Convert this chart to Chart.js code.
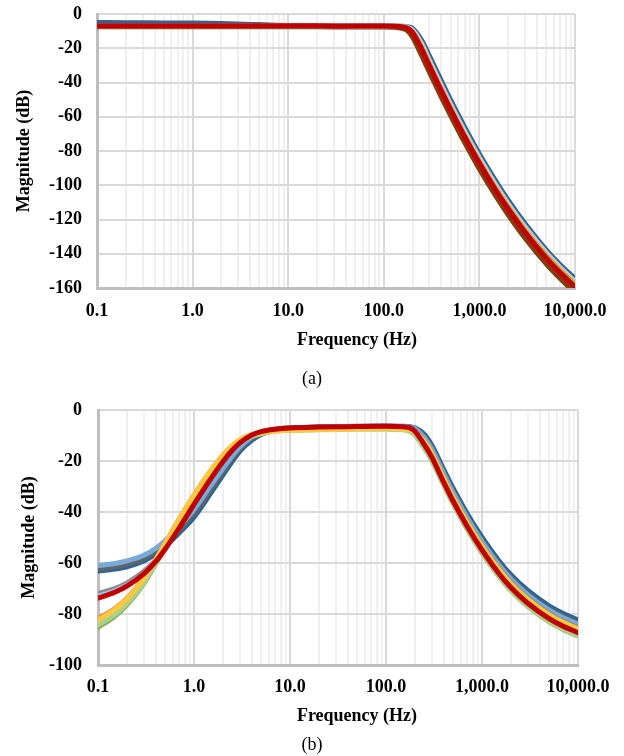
<!DOCTYPE html>
<html><head><meta charset="utf-8">
<script src="https://cdn.jsdelivr.net/npm/chart.js@4.4.1/dist/chart.umd.min.js"></script>
<style>
body{margin:0;background:#fff;width:624px;height:756px;position:relative;overflow:hidden;font-family:"Liberation Serif","Times New Roman",serif;}
canvas{position:absolute;left:0;}
#ca{top:0}
#cb{top:390px}
.lbl{position:absolute;transform:translate(-50%,-50%);white-space:nowrap;font-size:18px;color:#000;line-height:1;}
.b{font-weight:bold}
</style></head><body>
<canvas id="ca" width="624" height="360"></canvas>
<canvas id="cb" width="624" height="340"></canvas>
<div class="lbl b" style="left:357px;top:339px">Frequency (Hz)</div>
<div class="lbl" style="left:312px;top:378px">(a)</div>
<div class="lbl b" style="left:357px;top:715px">Frequency (Hz)</div>
<div class="lbl" style="left:312px;top:744px">(b)</div>
<script>
// ---------- tick labels ----------
const xTickLabels = ['0.1', '1.0', '10.0', '100.0', '1,000.0', '10,000.0'];
const yTicksA = [0, -20, -40, -60, -80, -100, -120, -140, -160];
const yTicksB = [0, -20, -40, -60, -80, -100];

// ---------- chart (a) data ----------
const freqA = [0.1,0.2,0.5,1,2,5,10,20,50,100,130,160,180,200,250,300,400,500,700,1000,1500,2000,3000,5000,7000,10000];
const redA    = [-6.8,-6.8,-6.8,-6.8,-6.8,-6.8,-6.9,-6.9,-7.0,-7.0,-7.1,-7.6,-8.5,-10.8,-20.5,-30.1,-44.7,-55.7,-71.5,-87,-103.2,-113.7,-127.3,-142.4,-151,-159.2];
const blueA   = [-5.0,-5.1,-5.2,-5.3,-5.6,-6.2,-6.7,-6.85,-6.9,-6.9,-7.0,-7.2,-7.5,-8.4,-15.5,-24.5,-39,-50.2,-66,-81.8,-98,-108.7,-122.4,-137.7,-146.4,-154.5];
const grayA   = [-6.9,-6.9,-6.9,-6.9,-6.9,-6.9,-6.9,-6.9,-6.95,-7.0,-7.0,-7.3,-7.9,-9.3,-17.5,-27.1,-41.7,-52.7,-68.5,-84,-100.2,-110.7,-124.3,-139.4,-148,-156.2];
const yellowA = [-7.0,-7.0,-7.0,-7.0,-7.0,-7.0,-7.0,-7.0,-7.05,-7.05,-7.05,-7.4,-8.1,-10,-19,-28.6,-43.2,-54.2,-70,-85.5,-101.7,-112.2,-125.8,-140.9,-149.5,-157.7];
const greenA  = [-7.1,-7.1,-7.1,-7.1,-7.1,-7.1,-7.1,-7.1,-7.1,-7.1,-7.1,-7.5,-8.2,-10.1,-19.3,-28.8,-43.4,-54.3,-70.1,-85.6,-101.7,-112.1,-125.6,-140.6,-149.2,-157.3];
const brownA  = [-7.5,-7.5,-7.5,-7.5,-7.5,-7.5,-7.5,-7.5,-7.6,-7.6,-7.8,-8.6,-10.2,-13.5,-24.5,-34,-48.5,-59.3,-75,-90.5,-106.7,-117.2,-130.8,-145.9,-154.5,-162.7];

// ---------- chart (b) data ----------
const freqB = [0.1,0.15,0.2,0.3,0.4,0.5,0.7,1,1.5,2,2.5,3,4,5,7,10,20,50,100,150,180,200,250,300,400,500,700,1000,1500,2000,3000,5000,7000,10000];
const redB       = [-73.8,-71.5,-69.1,-64.3,-59.4,-54.6,-46.3,-37,-26.9,-20.3,-15.8,-12.9,-9.8,-8.5,-7.55,-7.05,-6.7,-6.5,-6.4,-6.6,-7.1,-8.4,-13.5,-18.5,-28.4,-35.7,-45.6,-54.9,-64.1,-69.6,-75.8,-81.8,-84.8,-87.3];
const grayB      = [-71.8,-69.8,-67.6,-63.1,-58.6,-54.1,-46.1,-36.9,-26.9,-20.3,-15.8,-12.9,-9.8,-8.5,-7.5,-7.05,-6.7,-6.5,-6.5,-6.6,-6.9,-7.8,-11.8,-16.5,-26.2,-33.5,-43.4,-52.7,-61.9,-67.4,-73.6,-79.6,-82.6,-85.1];
const paleBlueB  = [-72.6,-70.5,-68.3,-63.7,-59,-54.4,-46.2,-37,-26.9,-20.3,-15.8,-12.9,-9.8,-8.5,-7.5,-7.05,-6.7,-6.5,-6.4,-6.6,-7.0,-8.2,-13,-17.9,-27.8,-35.1,-45,-54.3,-63.5,-69,-75.2,-81.2,-84.2,-86.7];
const lightBlueB = [-61,-60.2,-59.2,-57,-54.2,-51.3,-45.8,-39,-29.5,-23,-18,-14.5,-10.6,-8.7,-7.5,-7.05,-6.7,-6.45,-6.4,-6.5,-6.7,-7.3,-10.8,-15.4,-25.1,-32.4,-42.3,-51.6,-60.8,-66.3,-72.5,-78.5,-81.5,-84];
const darkGrayB  = [-62.3,-61.5,-60.5,-58.2,-55.4,-52.4,-47,-40.6,-31,-24.3,-19,-15.3,-11.2,-9.1,-7.6,-7.05,-6.7,-6.45,-6.4,-6.5,-6.7,-7.2,-10.3,-14.9,-24.6,-31.9,-41.8,-51.1,-60.3,-65.8,-72,-78,-81,-83.5];
const darkBlueB  = [-63.2,-62.4,-61.5,-59.2,-56.5,-53.5,-48.2,-42,-32.5,-25.5,-20.2,-16.2,-11.9,-9.6,-7.8,-7.1,-6.7,-6.4,-6.3,-6.4,-6.6,-7.0,-9.5,-13.8,-23.4,-30.7,-40.6,-49.9,-59.1,-64.6,-70.8,-76.8,-79.8,-82.3];
const orangeB    = [-81.4,-77.4,-73.3,-65.2,-57.9,-51.6,-42.1,-32.7,-23.1,-17.2,-13.6,-11.4,-9.4,-8.8,-8.1,-7.8,-7.5,-7.3,-7.3,-7.4,-7.8,-8.7,-12.3,-17.1,-26.9,-34.2,-44.1,-53.4,-62.6,-68.1,-74.3,-80.3,-83.3,-85.8];
const yellowB    = [-82.3,-78.25,-74.1,-66,-58.7,-52.45,-42.95,-33.5,-23.8,-17.8,-14,-11.7,-9.6,-8.9,-8.2,-7.9,-7.6,-7.4,-7.3,-7.4,-7.8,-8.7,-12.3,-17.1,-26.9,-34.2,-44.1,-53.4,-62.6,-68.1,-74.3,-80.3,-83.3,-85.8];
const lightGreenB= [-84.3,-80.1,-75.9,-67.8,-60.3,-54,-44.5,-35,-25.3,-19.2,-15.2,-12.7,-10.3,-9.3,-8.3,-8.0,-7.7,-7.5,-7.5,-7.8,-8.5,-9.8,-15,-19.9,-29.6,-36.9,-46.8,-56.1,-65.3,-70.8,-77,-83,-86,-88.5];
const greenB     = [-85.7,-81.4,-77.1,-68.8,-61.1,-54.7,-45.1,-35.6,-25.8,-19.6,-15.5,-12.9,-10.5,-9.4,-8.5,-8.1,-7.8,-7.6,-7.6,-7.9,-8.7,-10.1,-15.4,-20.3,-30.1,-37.4,-47.3,-56.6,-65.8,-71.3,-77.5,-83.5,-86.5,-89];

// ---------- styles (first listed = drawn on top) ----------
const seriesA = [
  {label:'A6', values: redA,    color:'#C00000', width:5},
  {label:'A3', values: yellowA, color:'#FFC000', width:3},
  {label:'A4', values: greenA,  color:'#4E7A32', width:3},
  {label:'A2', values: grayA,   color:'#C8C8C8', width:5},
  {label:'A1', values: blueA,   color:'#2E6496', width:5},
  {label:'A5', values: brownA,  color:'#843C0C', width:5}
];
const seriesB = [
  {label:'B10', values: redB,        color:'#C00000', width:5},
  {label:'B7',  values: yellowB,     color:'#FFC83D', width:5},
  {label:'B6',  values: orangeB,     color:'#ED7D31', width:3},
  {label:'B5',  values: paleBlueB,   color:'#9DC3E6', width:3},
  {label:'B4',  values: grayB,       color:'#8E8E8E', width:4},
  {label:'B8',  values: lightGreenB, color:'#A9D18E', width:5},
  {label:'B9',  values: greenB,      color:'#8DB255', width:3},
  {label:'B1',  values: lightBlueB,  color:'#78AADB', width:5},
  {label:'B2',  values: darkGrayB,   color:'#5F6468', width:5},
  {label:'B3',  values: darkBlueB,   color:'#2B6597', width:5}
];

// grid positions of a log axis: 1..9 x each decade
const xGrid = [];
for (let e = -1; e < 4; e++) for (let k = 1; k <= 9; k++) xGrid.push(k * Math.pow(10, e));
xGrid.push(10000);

const FONT = 'Liberation Serif';
const AXIS_COLOR = '#BFBFBF';

function isDecade(v) {
  const e = Math.round(Math.log10(v));
  return Math.abs(v - Math.pow(10, e)) < 1e-9 * Math.pow(10, e);
}

function makeChart(id, freqs, series, yTicks, geo) {
  const yMin = Math.min(...yTicks), yMax = Math.max(...yTicks);
  return new Chart(document.getElementById(id), {
    type: 'line',
    data: {
      datasets: series.map(s => ({
        label: s.label,
        data: freqs.map((f, i) => ({x: f, y: s.values[i]})),
        borderColor: s.color, backgroundColor: s.color,
        borderWidth: s.width, pointRadius: 0, fill: false,
        cubicInterpolationMode: 'monotone',
        borderCapStyle: 'round', borderJoinStyle: 'round', clip: 0
      }))
    },
    options: {
      responsive: false, animation: false, events: [], devicePixelRatio: 1,
      layout: {padding: geo.padding},
      plugins: {legend: {display: false}, tooltip: {enabled: false}},
      scales: {
        x: {
          type: 'logarithmic', min: 0.1, max: 10000,
          afterBuildTicks: s => { s.ticks = xGrid.map(v => ({value: v, major: isDecade(v)})); },
          afterFit: s => { s.height = geo.xHeight; s.paddingLeft = 0; s.paddingRight = 0; },
          ticks: {
            autoSkip: false, maxRotation: 0, minRotation: 0, padding: geo.xTickPad, color: '#000',
            font: {family: FONT, size: 18, weight: 'bold', lineHeight: 1.2},
            callback: v => isDecade(v) ? xTickLabels[Math.round(Math.log10(v)) + 1] : ''
          },
          grid: {
            drawTicks: false, lineWidth: 2,
            color: c => (c.tick && isDecade(c.tick.value)) ? (c.index === 0 ? AXIS_COLOR : '#D9D9D9') : '#F0F0F0'
          },
          border: {color: AXIS_COLOR, width: 3}
        },
        y: {
          type: 'linear', min: yMin, max: yMax,
          afterBuildTicks: s => { s.ticks = yTicks.slice().sort((a, b) => a - b).map(v => ({value: v})); },
          afterFit: s => { s.width = geo.yWidth; s.paddingTop = 0; s.paddingBottom = 0; },
          ticks: {
            padding: geo.yTickPad, color: '#000',
            font: {family: FONT, size: 18, weight: 'bold', lineHeight: 1.2},
            callback: v => String(v)
          },
          grid: {drawTicks: false, lineWidth: 2, color: c => (c.tick && c.tick.value === yMin) ? AXIS_COLOR : '#D9D9D9'},
          border: {color: AXIS_COLOR, width: 3},
          title: {
            display: true, text: 'Magnitude (dB)', color: '#000',
            font: {family: FONT, size: 18, weight: 'bold', lineHeight: 1.2},
            padding: {top: geo.yTitlePad, bottom: 0}
          }
        }
      }
    }
  });
}

makeChart('ca', freqA, seriesA, yTicksA, {
  padding: {left: 0, right: 49, top: 14, bottom: 0},
  yWidth: 97, xHeight: 72, xTickPad: 13, yTickPad: 15, yTitlePad: 14
});
makeChart('cb', freqB, seriesB, yTicksB, {
  padding: {left: 0, right: 46, top: 20, bottom: 0},
  yWidth: 98, xHeight: 65, xTickPad: 12, yTickPad: 16, yTitlePad: 19
});
</script>
</body></html>
